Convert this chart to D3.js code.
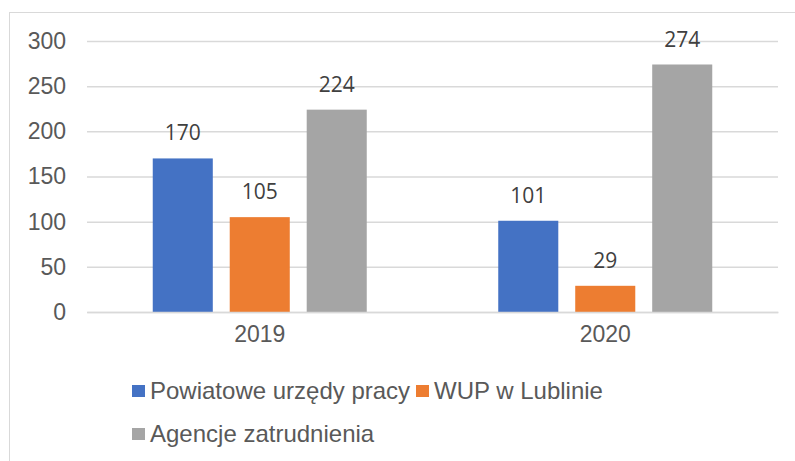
<!DOCTYPE html>
<html>
<head>
<meta charset="utf-8">
<script src="https://cdn.jsdelivr.net/npm/d3@7"></script>
<style>
  body { margin: 0; background: #fff; }
</style>
</head>
<body>
<svg id="drawing_region" width="795" height="461"></svg>
<script>
var years = ["2019", "2020"];
var seriesNames = ["Powiatowe urzędy pracy", "WUP w Lublinie", "Agencje zatrudnienia"];
var seriesColors = ["#4472c4", "#ed7d31", "#a5a5a5"];
var powiatowe = [170, 101];
var wup = [105, 29];
var agencje = [224, 274];
var yTicks = [0, 50, 100, 150, 200, 250, 300];

var seriesValues = [powiatowe, wup, agencje];

var data = [];
years.forEach((y, i) => {
    seriesNames.forEach((s, j) => {
        data.push({ year: y, series: s, value: seriesValues[j][i] });
    });
});

var svg = d3.select('#drawing_region');
var margin = { top: 41, right: 17, bottom: 149, left: 87 };
var width = 795, height = 461;
const inner_width = width - margin.left - margin.right;
const inner_height = height - margin.top - margin.bottom;

// outer chart border
svg.append('rect')
    .attr('x', 9.5).attr('y', 12.5)
    .attr('width', 800).attr('height', 470)
    .attr('fill', 'none')
    .attr('stroke', '#d9d9d9')
    .attr('stroke-width', 1);

var chart = svg.append('g')
    .attr('transform', `translate(${margin.left}, ${margin.top})`);

const xscale = d3.scaleBand()
    .domain(years)
    .range([0, inner_width]);

const xinner = d3.scaleBand()
    .domain(seriesNames)
    .range([-107, 107])
    .paddingInner(0.22);

const yscale = d3.scaleLinear()
    .domain([0, 300])
    .range([inner_height, 0]);

const color = d3.scaleOrdinal().domain(seriesNames).range(seriesColors);

// gridlines + y labels
const yaxis = d3.axisLeft(yscale)
    .tickValues(yTicks)
    .tickSize(-inner_width)
    .tickPadding(21);

const yaxis_group = chart.append('g').call(yaxis);
yaxis_group.select('.domain').remove();
yaxis_group.selectAll('line').attr('stroke', '#d9d9d9').attr('stroke-width', 1.5);
yaxis_group.selectAll('text')
    .attr('fill', '#595959')
    .style('font-family', '"Liberation Sans", Arial, sans-serif')
    .style('font-size', '23px');

// bars
chart.selectAll('rect.bar')
    .data(data)
    .join('rect')
    .attr('class', 'bar')
    .attr('x', d => xscale(d.year) + xscale.bandwidth() / 2 + xinner(d.series))
    .attr('y', d => yscale(d.value))
    .attr('width', xinner.bandwidth())
    .attr('height', d => yscale(0) - yscale(d.value))
    .attr('fill', d => color(d.series));

// data labels
chart.selectAll('text.lbl')
    .data(data)
    .join('text')
    .attr('class', 'lbl')
    .attr('x', d => xscale(d.year) + xscale.bandwidth() / 2 + xinner(d.series) + xinner.bandwidth() / 2)
    .attr('y', d => yscale(d.value) - 18)
    .attr('text-anchor', 'middle')
    .attr('fill', '#404040')
    .style('font-family', '"Open Sans", "Noto Sans", sans-serif')
    .style('font-size', '21px')
    .text(d => d.value);

// x axis
const xaxis = d3.axisBottom(xscale).tickSize(0).tickPadding(14);
const xaxis_group = chart.append('g')
    .attr('transform', `translate(0, ${inner_height})`)
    .call(xaxis);
xaxis_group.select('.domain').attr('stroke', '#d9d9d9').attr('stroke-width', 1.5);
xaxis_group.selectAll('text')
    .attr('fill', '#595959')
    .style('font-family', '"Liberation Sans", Arial, sans-serif')
    .style('font-size', '23px');

// legend
var legendPos = [
    { x: 132, y: 385 },
    { x: 416, y: 385 },
    { x: 132, y: 428 }
];
var legend = svg.selectAll('g.legend')
    .data(seriesNames)
    .join('g')
    .attr('class', 'legend')
    .attr('transform', (d, i) => `translate(${legendPos[i].x}, ${legendPos[i].y})`);

legend.append('rect')
    .attr('width', 13).attr('height', 12)
    .attr('fill', d => color(d));

legend.append('text')
    .attr('x', 18)
    .attr('y', 14)
    .attr('fill', '#595959')
    .style('font-family', '"Liberation Sans", Arial, sans-serif')
    .style('font-size', '24px')
    .text(d => d);
</script>
</body>
</html>
